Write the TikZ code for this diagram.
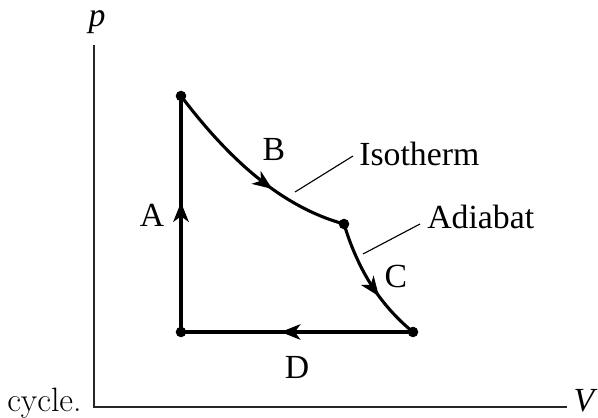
\documentclass[tikz,border=0pt]{standalone}
\usepackage{fontspec}
\newfontfamily\timesfont{Liberation Serif}
\usetikzlibrary{arrows.meta, decorations.markings}

\begin{document}
\begin{tikzpicture}[
    x=0.025cm, y=-0.025cm,
    font=\timesfont\fontsize{24}{28}\selectfont,
    axis/.style={line width=1.1pt, draw=black!85},
    cycleline/.style={line width=2.2pt, draw=black},
    midarrow/.style={postaction={decorate},
                  decoration={markings, mark=at position #1 with
                  {\arrow{Stealth[length=14pt, width=11pt, inset=4pt]}}}},
    dot/.style={circle, fill=black, inner sep=0pt, minimum size=7.5pt},
    leader/.style={line width=0.8pt},
    lbl/.style={inner sep=0pt}
]
\useasboundingbox (0,0) rectangle (598,418);

% --- Axes with p and V.
\coordinate (origin) at (94,407);
\coordinate (ptop)   at (94,45);
\coordinate (vend)   at (567,407);
\draw[axis] (ptop) -- (origin) -- (vend);
\node[lbl] (plabel) at (97,22) {\itshape p};
\node[lbl, anchor=base] (vlabel) at (584,411) {\itshape V};

% --- The four states of the cycle.
\node[dot] (s1) at (181,96)  {};
\node[dot] (s2) at (344,224) {};
\node[dot] (s3) at (413,332) {};
\node[dot] (s4) at (181,332) {};

% --- Cycle: A up, B isotherm, C adiabat, D back.
\draw[cycleline, midarrow=0.55] (s4.center) -- (s1.center);
\draw[cycleline, midarrow=0.62] (s1.center)
    .. controls (222,150) and (275,205) .. (s2.center);
\draw[cycleline, midarrow=0.62] (s2.center)
    .. controls (358,270) and (380,305) .. (s3.center);
\draw[cycleline, midarrow=0.57] (s3.center) -- (s4.center);

% --- Process letters.
\node[lbl] (la) at (152,215) {A};
\node[lbl] (lb) at (274,150) {B};
\node[lbl] (lc) at (396,276) {C};
\node[lbl] (ld) at (297,367) {D};

% --- Curve names with leader lines.
\node[lbl, anchor=base west] (iso) at (359,166) {Isotherm};
\node[lbl, anchor=base west] (adi) at (427,229) {Adiabat};
\coordinate (isofoot) at (295,192);
\coordinate (adifoot) at (363,254);
\draw[leader] (isofoot) -- (353,156);
\draw[leader] (adifoot) -- (420,224);

% --- Stray word from the page text.
\node[lbl, anchor=base west, font=\rmfamily\fontsize{24}{28}\selectfont]
    (word) at (7,411) {cycle.};

\end{tikzpicture}
\end{document}
